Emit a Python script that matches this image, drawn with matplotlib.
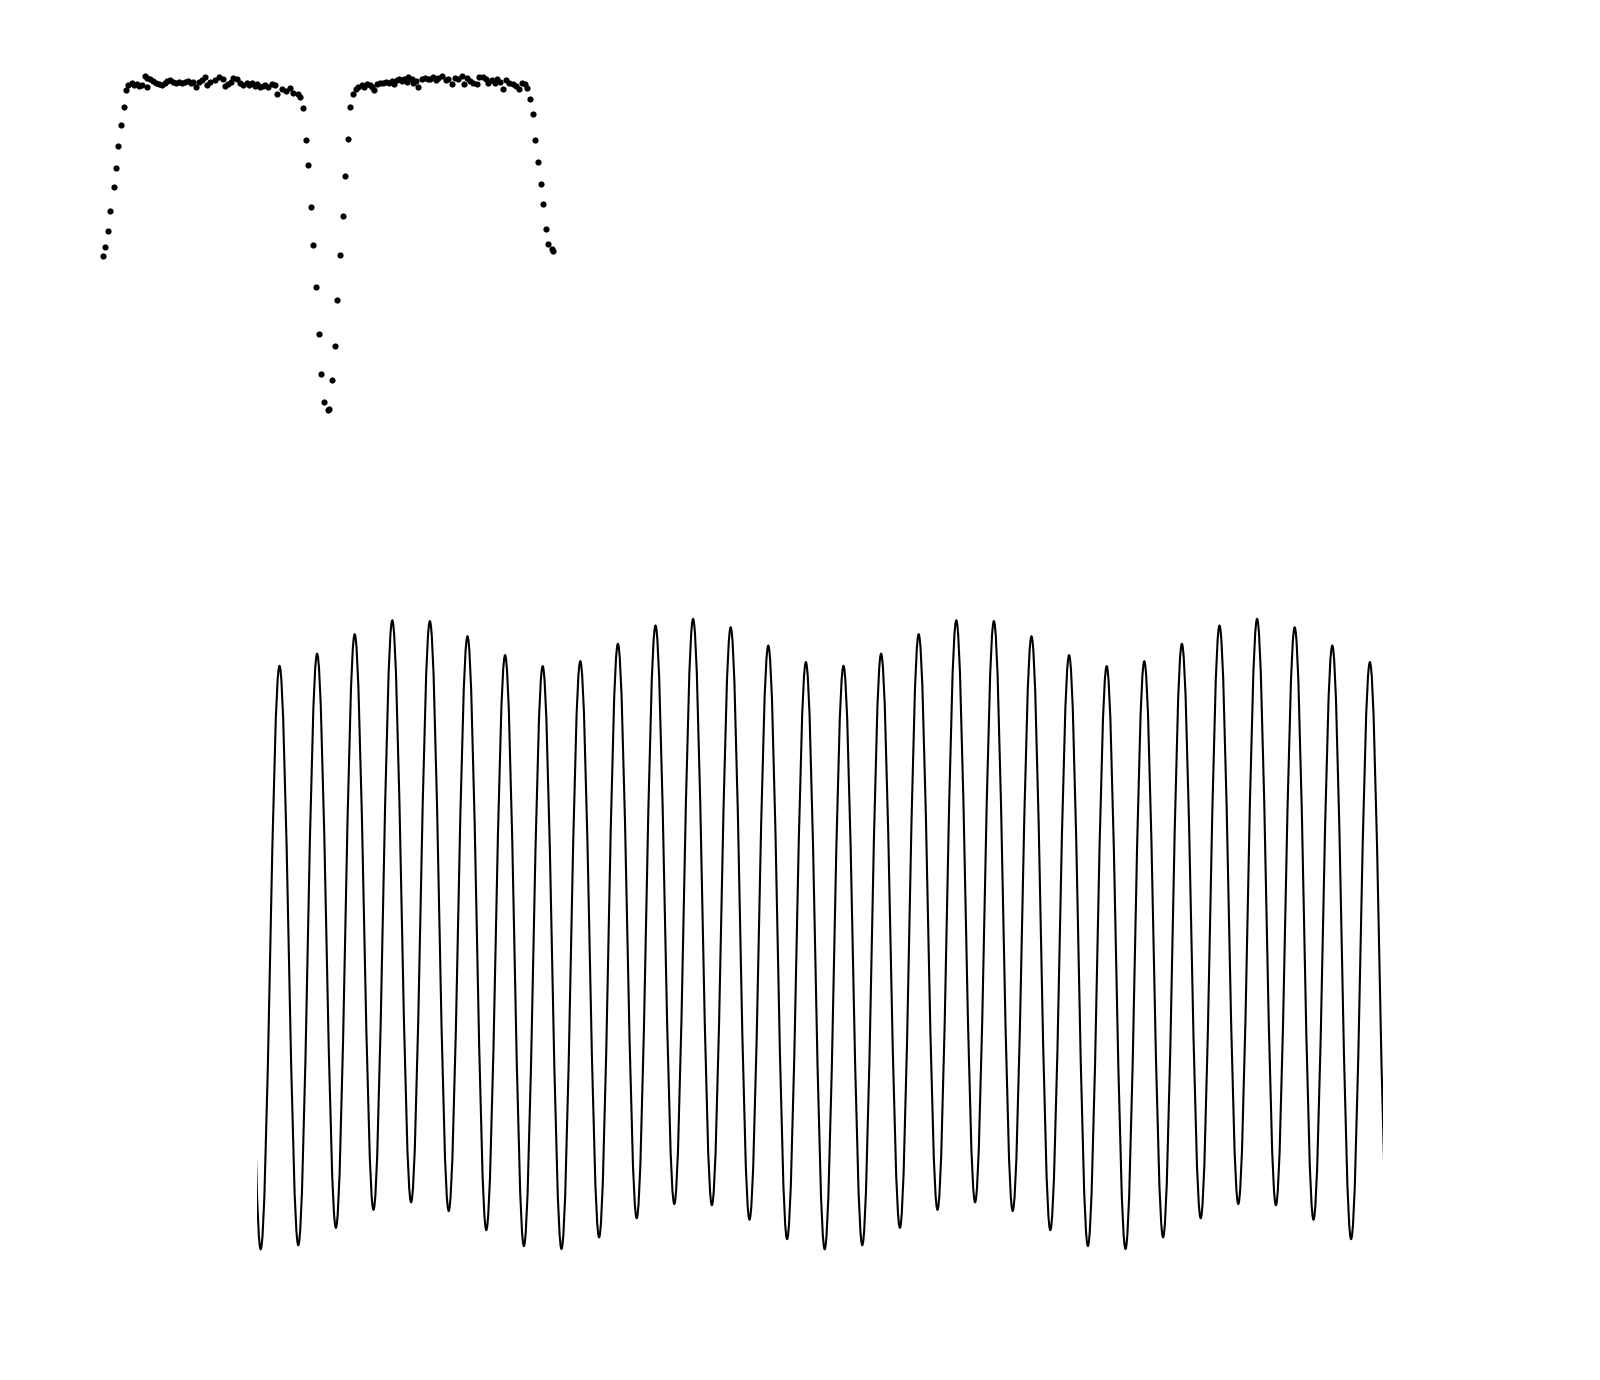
import matplotlib
matplotlib.use("Agg")
import matplotlib.pyplot as plt
from matplotlib.path import Path
from matplotlib.patches import PathPatch

# ---------------- Top panel: phase-folded eclipsing light curve ----------------
phase_deg = [
    -179.8, -178.2, -175.8, -174.2, -171.4, -169.4, -167.8, -165.4, -163.0, -161.4,
    -159.8, -157.0, -155.2, -153.0, -151.0, -149.0, -146.4, -145.0, -144.6, -142.4,
    -139.8, -137.6, -135.0, -132.8, -130.4, -128.6, -126.4, -124.2, -121.6, -119.4,
    -116.8, -114.4, -112.2, -109.8, -107.8, -105.6, -103.4, -101.0, -98.4, -96.6,
    -94.4, -90.4, -87.0, -84.2, -82.4, -79.8, -77.8, -75.8, -73.0, -70.4,
    -68.2, -65.0, -63.0, -61.0, -58.4, -56.6, -54.4, -52.2, -50.4, -47.8,
    -45.0, -42.4, -41.0, -37.0, -33.6, -30.4, -27.8, -23.8, -22.4,
    -19.8, -17.4, -15.8, -13.4, -11.8, -9.4, -7.0, -5.4, -3.0, -0.2, 1.0,
    3.4, 5.8, 7.4, 9.8, 12.2, 13.8, 16.2, 17.8,
    20.2, 22.2, 24.2, 27.0, 29.0, 31.0, 33.6, 35.4, 37.0, 39.0,
    41.6, 44.2, 46.2, 48.8, 51.0, 53.0, 55.0, 56.8, 59.0, 61.0,
    63.0, 64.2, 67.0, 68.2, 70.2, 72.2, 75.4, 77.6, 79.8, 81.6,
    84.2, 86.2, 88.2, 91.0, 94.4, 96.2, 99.0, 101.6, 104.2, 107.0,
    108.8, 111.0, 113.6, 116.2, 119.0, 121.0, 123.8, 126.4, 128.2, 131.0,
    133.6, 135.4, 137.6, 139.8, 142.4, 145.0, 147.8, 150.4, 152.6, 155.0,
    157.6, 159.4,
    161.6, 163.8, 165.8, 168.0, 170.2, 172.2, 174.4, 176.2, 179.0, 180.2,
]
flux_pct = [
    70.95, 72.45, 75.12, 78.45, 82.50, 85.67, 89.28, 92.78, 95.78, 98.62,
    99.50, 99.78, 99.50, 99.67, 99.33, 99.50, 101.00, 100.62, 99.12, 100.45,
    100.22, 99.88, 99.67, 99.55, 99.88, 100.17, 100.33, 100.05, 99.78, 100.00,
    99.78, 100.05, 100.17, 99.88, 100.05, 99.12, 100.05, 100.33, 100.78, 99.50,
    100.05, 100.33, 100.78, 100.45, 99.33, 99.67, 100.05, 100.62, 100.45, 99.88,
    99.50, 99.78, 99.50, 99.78, 99.33, 99.67, 99.12, 99.33, 99.50, 99.22,
    99.67, 99.50, 98.00, 98.78, 98.55, 98.95, 98.22, 98.00, 97.55,
    95.62, 90.28, 86.12, 79.12, 72.78, 65.78, 57.95, 51.28, 46.62, 45.33, 45.45,
    50.28, 55.95, 63.62, 71.12, 77.62, 84.28, 90.45, 95.78,
    97.95, 98.88, 99.22, 99.45, 99.22, 99.62, 99.45, 99.22, 98.67, 99.62,
    99.78, 99.88, 100.00, 99.88, 100.17, 99.62, 100.33, 100.45, 100.17, 100.55,
    100.00, 100.88, 100.45, 99.88, 100.17, 99.22, 100.55, 100.72, 100.45, 100.55,
    100.88, 100.33, 100.72, 101.00, 100.33, 100.55, 99.62, 100.72, 100.55, 101.00,
    99.62, 100.72, 100.17, 99.88, 99.62, 100.88, 100.88, 100.55, 99.88, 100.33,
    99.88, 100.55, 100.00, 98.88, 100.33, 99.88, 99.62, 99.33, 98.88, 99.88,
    99.62, 99.05,
    97.12, 94.62, 90.33, 86.67, 83.00, 79.72, 75.45, 72.95, 72.22, 71.83,
]

# ---------------- Bottom panel: modulated oscillation (extrema) ----------------
trough_t = [0.13, 1.13, 2.13, 3.13, 4.13, 5.13, 6.13, 7.13, 8.13, 9.13,
            10.13, 11.13, 12.13, 13.13, 14.13, 15.13, 16.13, 17.13, 18.13, 19.13,
            20.13, 21.13, 22.13, 23.13, 24.13, 25.13, 26.13, 27.13, 28.13, 29.13]
trough_v = [-1.004, -0.990, -0.930, -0.868, -0.842, -0.872, -0.938, -0.993, -1.003, -0.963,
            -0.897, -0.848, -0.852, -0.902, -0.969,
            -1.004, -0.990, -0.930, -0.868, -0.842, -0.872, -0.938, -0.993, -1.003, -0.963,
            -0.897, -0.848, -0.852, -0.902, -0.969]
peak_t = [0.63, 1.63, 2.63, 3.63, 4.63, 5.63, 6.63, 7.63, 8.63, 9.63,
          10.63, 11.63, 12.63, 13.63, 14.63, 15.63, 16.63, 17.63, 18.63, 19.63,
          20.63, 21.63, 22.63, 23.63, 24.63, 25.63, 26.63, 27.63, 28.63, 29.63]
peak_v = [1.007, 1.049, 1.116, 1.164, 1.161, 1.109, 1.044, 1.006, 1.023, 1.083,
          1.146, 1.169, 1.140, 1.077, 1.020,
          1.007, 1.049, 1.116, 1.164, 1.161, 1.109, 1.044, 1.006, 1.023, 1.083,
          1.146, 1.169, 1.140, 1.077, 1.020]
# extrema just outside the visible window (the window cuts the wave)
lead_peak = (-0.37, 1.020)
tail_trough = (30.13, -1.004)
t_window = (0.035, 29.975)

fig = plt.figure(figsize=(16, 13.8), dpi=100)
fig.patch.set_facecolor("white")

ax1 = fig.add_axes([90.5 / 1600, 1 - 442 / 1380, 475 / 1600, 390 / 1380])
ax1.scatter(phase_deg, flux_pct, s=20, color="black", linewidths=0)
ax1.set_xlim(-190, 190)
ax1.set_ylim(40, 105)
ax1.axis("off")

px_per_t = 37.6
left_px = 255.8 + t_window[0] * px_per_t
right_px = 255.8 + t_window[1] * px_per_t
ax2 = fig.add_axes([left_px / 1600, 1 - 1335 / 1380, (right_px - left_px) / 1600, 754 / 1380])
ext_t = [lead_peak[0]]
ext_v = [lead_peak[1]]
for tt, tv, pt, pv in zip(trough_t, trough_v, peak_t, peak_v):
    ext_t += [tt, pt]
    ext_v += [tv, pv]
ext_t.append(tail_trough[0])
ext_v.append(tail_trough[1])

a = 0.3634  # cubic Bezier handle length reproducing a half-cosine between extrema
verts = [(ext_t[0], ext_v[0])]
codes = [Path.MOVETO]
for i in range(len(ext_t) - 1):
    t0, v0, t1, v1 = ext_t[i], ext_v[i], ext_t[i + 1], ext_v[i + 1]
    dt = t1 - t0
    verts += [(t0 + a * dt, v0), (t1 - a * dt, v1), (t1, v1)]
    codes += [Path.CURVE4] * 3
patch = PathPatch(Path(verts, codes), fill=False, edgecolor="black", lw=1.5)
ax2.add_patch(patch)
ax2.set_xlim(*t_window)
ax2.set_ylim(-1.3, 1.3)
ax2.axis("off")

fig.savefig("out.png", dpi=100, facecolor="white")
